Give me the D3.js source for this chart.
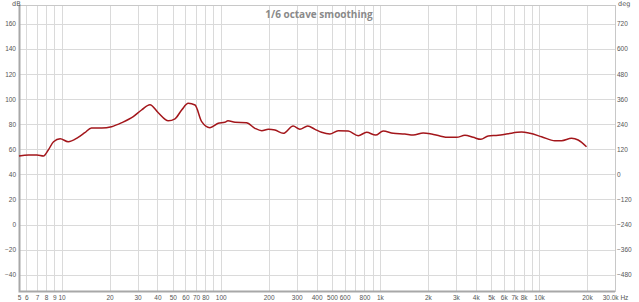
<!DOCTYPE html>
<html>
<head>
<meta charset="utf-8">
<script src="https://cdn.jsdelivr.net/npm/d3@7"></script>
<style>
  body { margin: 0; background: #fff; }
  svg { display: block; font-family: "DejaVu Sans", sans-serif; }
  .axis text { fill: #555; font-size: 6.5px; }
  .axis path, .axis line { display: none; }
</style>
</head>
<body>
<svg width="639" height="302"></svg>
<script>
'use strict'

// measured response, 1/6 octave smoothing
var freqs = [5.4, 6.2, 7.0, 7.7, 8.25, 8.9, 9.8, 11, 12.7, 14, 15.4, 17.9, 20.6, 23.9, 28.2, 31.8,
  35.9, 40.5, 46.8, 51.6, 56.8, 62.5, 68.9, 75.9, 85.5, 96.4, 106, 111, 123, 145, 164, 181, 199,
  219, 247, 285, 314, 352, 391, 430, 485, 547, 632, 731, 825, 940, 1049, 1212, 1435, 1619, 1871,
  2113, 2382, 2686, 3033, 3419, 3856, 4309, 4791, 5535, 6394, 7765, 8754, 10368, 12566, 13846,
  16000, 17609, 19872];
var levels = [54.6, 55.4, 55.4, 54.6, 59.4, 66, 68.4, 66, 69.5, 73.2, 76.9, 76.9, 78, 81.2, 86, 91.3,
  95.5, 89.1, 82.7, 84.3, 91.3, 96.6, 95.3, 82, 77.2, 80.7, 81.5, 82.7, 81.5, 81.2, 76.7, 74.8, 75.9,
  75.3, 72.7, 78.5, 75.9, 78.5, 75.9, 73.5, 72.1, 74.8, 74.5, 70.8, 73.5, 71.3, 74.5, 72.7, 72.1, 71.3, 73,
  72.1, 70.6, 69.5, 69.5, 71.1, 69.5, 67.9, 70.6, 71.1, 72.4, 73.7, 72.7, 70, 66.8, 66.8,
  68.7, 67.4, 62];

var xTickValues = [5.4, 6, 7, 8, 9, 10, 20, 30, 40, 50, 60, 70, 80, 100, 200, 300, 400, 500, 600, 800,
  1000, 2000, 3000, 4000, 5000, 6000, 7000, 8000, 10000, 20000, 30000];
var xTickLabels = ["5", "6", "7", "8", "9", "10", "20", "30", "40", "50", "60", "70", "80", "100",
  "200", "300", "400", "500", "600", "800", "1k", "2k", "3k", "4k", "5k", "6k", "7k", "8k", "10k",
  "20k", "30.0k Hz"];
var xGridValues = [6, 7, 8, 9, 10, 20, 30, 40, 50, 60, 70, 80, 90, 100, 200, 300, 400, 500, 600, 700,
  800, 900, 1000, 2000, 3000, 4000, 5000, 6000, 7000, 8000, 9000, 10000, 20000];
var dbTicks = [-40, -20, 0, 20, 40, 60, 80, 100, 120, 140, 160];
var degTicks = [-480, -360, -240, -120, 0, 120, 240, 360, 480, 600, 720];

var svg = d3.select("svg"),
  margin = { top: 5, right: 24, bottom: 11, left: 19 },
  width = +svg.attr("width") - margin.left - margin.right,
  height = +svg.attr("height") - margin.top - margin.bottom;

var x = d3.scaleLog().domain([5.4, 30000]).range([0, width]),
  y = d3.scaleLinear().domain([-53, 175]).range([height, 0]),
  yDeg = d3.scaleLinear().domain([(-53 - 40) * 6, (175 - 40) * 6]).range([height, 0]);

var g = svg.append("g")
  .attr("transform", "translate(" + margin.left + "," + margin.top + ")");

// grid
g.append("g").selectAll("line")
  .data(xGridValues)
  .enter().append("line")
  .attr("x1", function(d) { return Math.round(x(d)) + 0.5; })
  .attr("x2", function(d) { return Math.round(x(d)) + 0.5; })
  .attr("y1", 0)
  .attr("y2", height)
  .attr("stroke", "#dadada");

g.append("g").selectAll("line")
  .data(dbTicks)
  .enter().append("line")
  .attr("x1", 0)
  .attr("x2", width)
  .attr("y1", function(d) { return Math.round(y(d)) + 0.5; })
  .attr("y2", function(d) { return Math.round(y(d)) + 0.5; })
  .attr("stroke", "#dadada");

// frame
g.append("rect")
  .attr("x", 0.5).attr("y", 0.5)
  .attr("width", width).attr("height", height)
  .attr("fill", "none")
  .attr("stroke", "#c8c8c8");

g.append("path")
  .attr("d", "M0.5,0V" + (height + 0.5) + "H" + width)
  .attr("fill", "none")
  .attr("stroke", "#a8a8a8")
  .attr("stroke-width", 2);

// axes
g.append("g")
  .attr("class", "axis")
  .call(d3.axisLeft(y).tickValues(dbTicks).tickSize(0).tickPadding(3));

g.append("g")
  .attr("class", "axis")
  .attr("transform", "translate(" + width + ",0)")
  .call(d3.axisRight(yDeg).tickValues(degTicks).tickSize(0).tickPadding(2));

g.append("g")
  .attr("class", "axis")
  .attr("transform", "translate(0," + height + ")")
  .call(d3.axisBottom(x).tickValues(xTickValues).tickSize(0).tickPadding(4)
    .tickFormat(function(d, i) { return xTickLabels[i]; }));

svg.append("text")
  .attr("x", 12).attr("y", 6)
  .attr("fill", "#555").attr("font-size", "6.5px")
  .text("dB");

svg.append("text")
  .attr("x", 618).attr("y", 6)
  .attr("fill", "#555").attr("font-size", "6.5px")
  .text("deg");

// title
svg.append("text")
  .attr("x", 319).attr("y", 17.5)
  .attr("text-anchor", "middle")
  .attr("fill", "#8a8a8a")
  .attr("font-family", "'Open Sans', sans-serif")
  .attr("font-weight", "bold")
  .attr("font-size", "10px")
  .text("1/6 octave smoothing");

// curve
var line = d3.line()
  .curve(d3.curveMonotoneX)
  .x(function(d) { return x(d[0]); })
  .y(function(d) { return y(d[1]); });

g.append("path")
  .datum(d3.zip(freqs, levels))
  .attr("d", line)
  .attr("fill", "none")
  .attr("stroke", "#a3161b")
  .attr("stroke-width", 1.5);
</script>
</body>
</html>
